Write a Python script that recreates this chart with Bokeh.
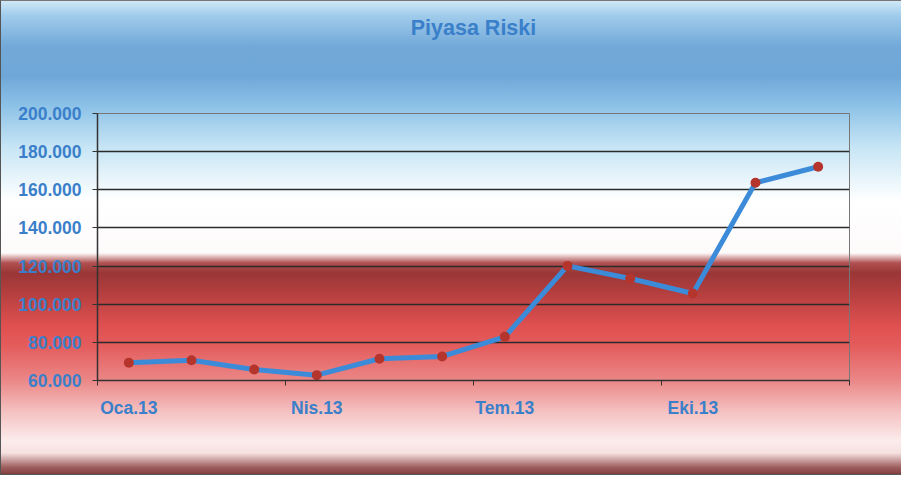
from bokeh.plotting import figure
from bokeh.models import FixedTicker, Title
from bokeh.embed import file_html
from bokeh.resources import INLINE

# ---- data ----
months = [1, 2, 3, 4, 5, 6, 7, 8, 9, 10, 11, 12]
risk = [69300, 70600, 65800, 62800, 71400, 72600, 82900, 120100, 113500, 105600, 163700, 172100]
x_label_pos = [1, 4, 7, 10]
x_labels = ["Oca.13", "Nis.13", "Tem.13", "Eki.13"]
y_ticks = [60000, 80000, 100000, 120000, 140000, 160000, 180000, 200000]
y_labels = ["60.000", "80.000", "100.000", "120.000", "140.000", "160.000", "180.000", "200.000"]
title_text = "Piyasa Riski"

FONT = "Liberation Sans"
BLUE_TXT = "#3a7fca"

p = figure(width=901, height=475, output_backend="svg", toolbar_location=None,
           x_range=(0.5, 12.5), y_range=(60000, 200000),
           min_border_left=96, min_border_right=53, min_border_top=112, min_border_bottom=96)

p.title = Title(text=title_text + "\n\n\n", align="center", vertical_align="top", text_font=FONT,
                text_font_size="21.5px", text_font_style="bold", text_color=BLUE_TXT, standoff=0)

grad = ("linear-gradient(to bottom, #cfe8f5 0px, #9fcbeb 15px, #72a9d9 45px, #6ea7d8 75px, "
        "#8dc2e7 105px, #c5e4f5 145px, #eaf6fb 180px, #ffffff 200px, #fdfafa 252px, "
        "#b05050 262px, #9a3636 272px, #b23e3e 290px, #e05050 325px, #e45c5c 345px, "
        "#eb8888 380px, #f4c0c0 410px, #fcecec 440px, #f6e0e0 452px, #a06060 466px, #7a3535 475px)")
p.styles = {"background": grad, "border-left": "1px solid #555555",
            "border-top": "1px solid #777777", "border-bottom": "1px solid #555555"}
p.border_fill_color = None
p.background_fill_color = None
p.outline_line_color = "#777777"
p.outline_line_width = 1

# grid
p.xgrid.grid_line_color = None
p.ygrid.ticker = FixedTicker(ticks=y_ticks)
p.ygrid.grid_line_color = "#2b2b2b"
p.ygrid.grid_line_width = 1.5

# y axis
p.yaxis.ticker = FixedTicker(ticks=y_ticks)
p.yaxis.major_label_overrides = {t: l for t, l in zip(y_ticks, y_labels)}
p.yaxis.major_label_text_font = FONT
p.yaxis.major_label_text_font_size = "17.5px"
p.yaxis.major_label_text_font_style = "bold"
p.yaxis.major_label_text_color = BLUE_TXT
p.yaxis.major_tick_out = 5
p.yaxis.major_tick_in = 0
p.yaxis.minor_tick_line_color = None
p.yaxis.major_label_standoff = 11
p.yaxis.axis_line_color = "#333333"
p.yaxis.axis_line_width = 1.5
p.yaxis.major_tick_line_color = "#333333"

# x axis
p.xaxis.ticker = FixedTicker(ticks=x_label_pos, minor_ticks=[0.5, 3.5, 6.5, 9.5, 12.5])
p.xaxis.major_label_overrides = {t: l for t, l in zip(x_label_pos, x_labels)}
p.xaxis.major_label_text_font = FONT
p.xaxis.major_label_text_font_size = "17.5px"
p.xaxis.major_label_text_font_style = "bold"
p.xaxis.major_label_text_color = BLUE_TXT
p.xaxis.major_tick_out = 0
p.xaxis.major_tick_in = 0
p.xaxis.minor_tick_out = 5
p.xaxis.minor_tick_in = 0
p.xaxis.minor_tick_line_color = "#333333"
p.xaxis.major_label_standoff = 12
p.xaxis.axis_line_color = "#333333"
p.xaxis.axis_line_width = 1.5

# series
p.line(months, risk, line_color="#3b8bd9", line_width=5, line_join="round")
p.scatter(months, risk, marker="circle", size=10, fill_color="#b5342c", line_color=None)

open("out.html", "w").write(file_html(p, INLINE))
